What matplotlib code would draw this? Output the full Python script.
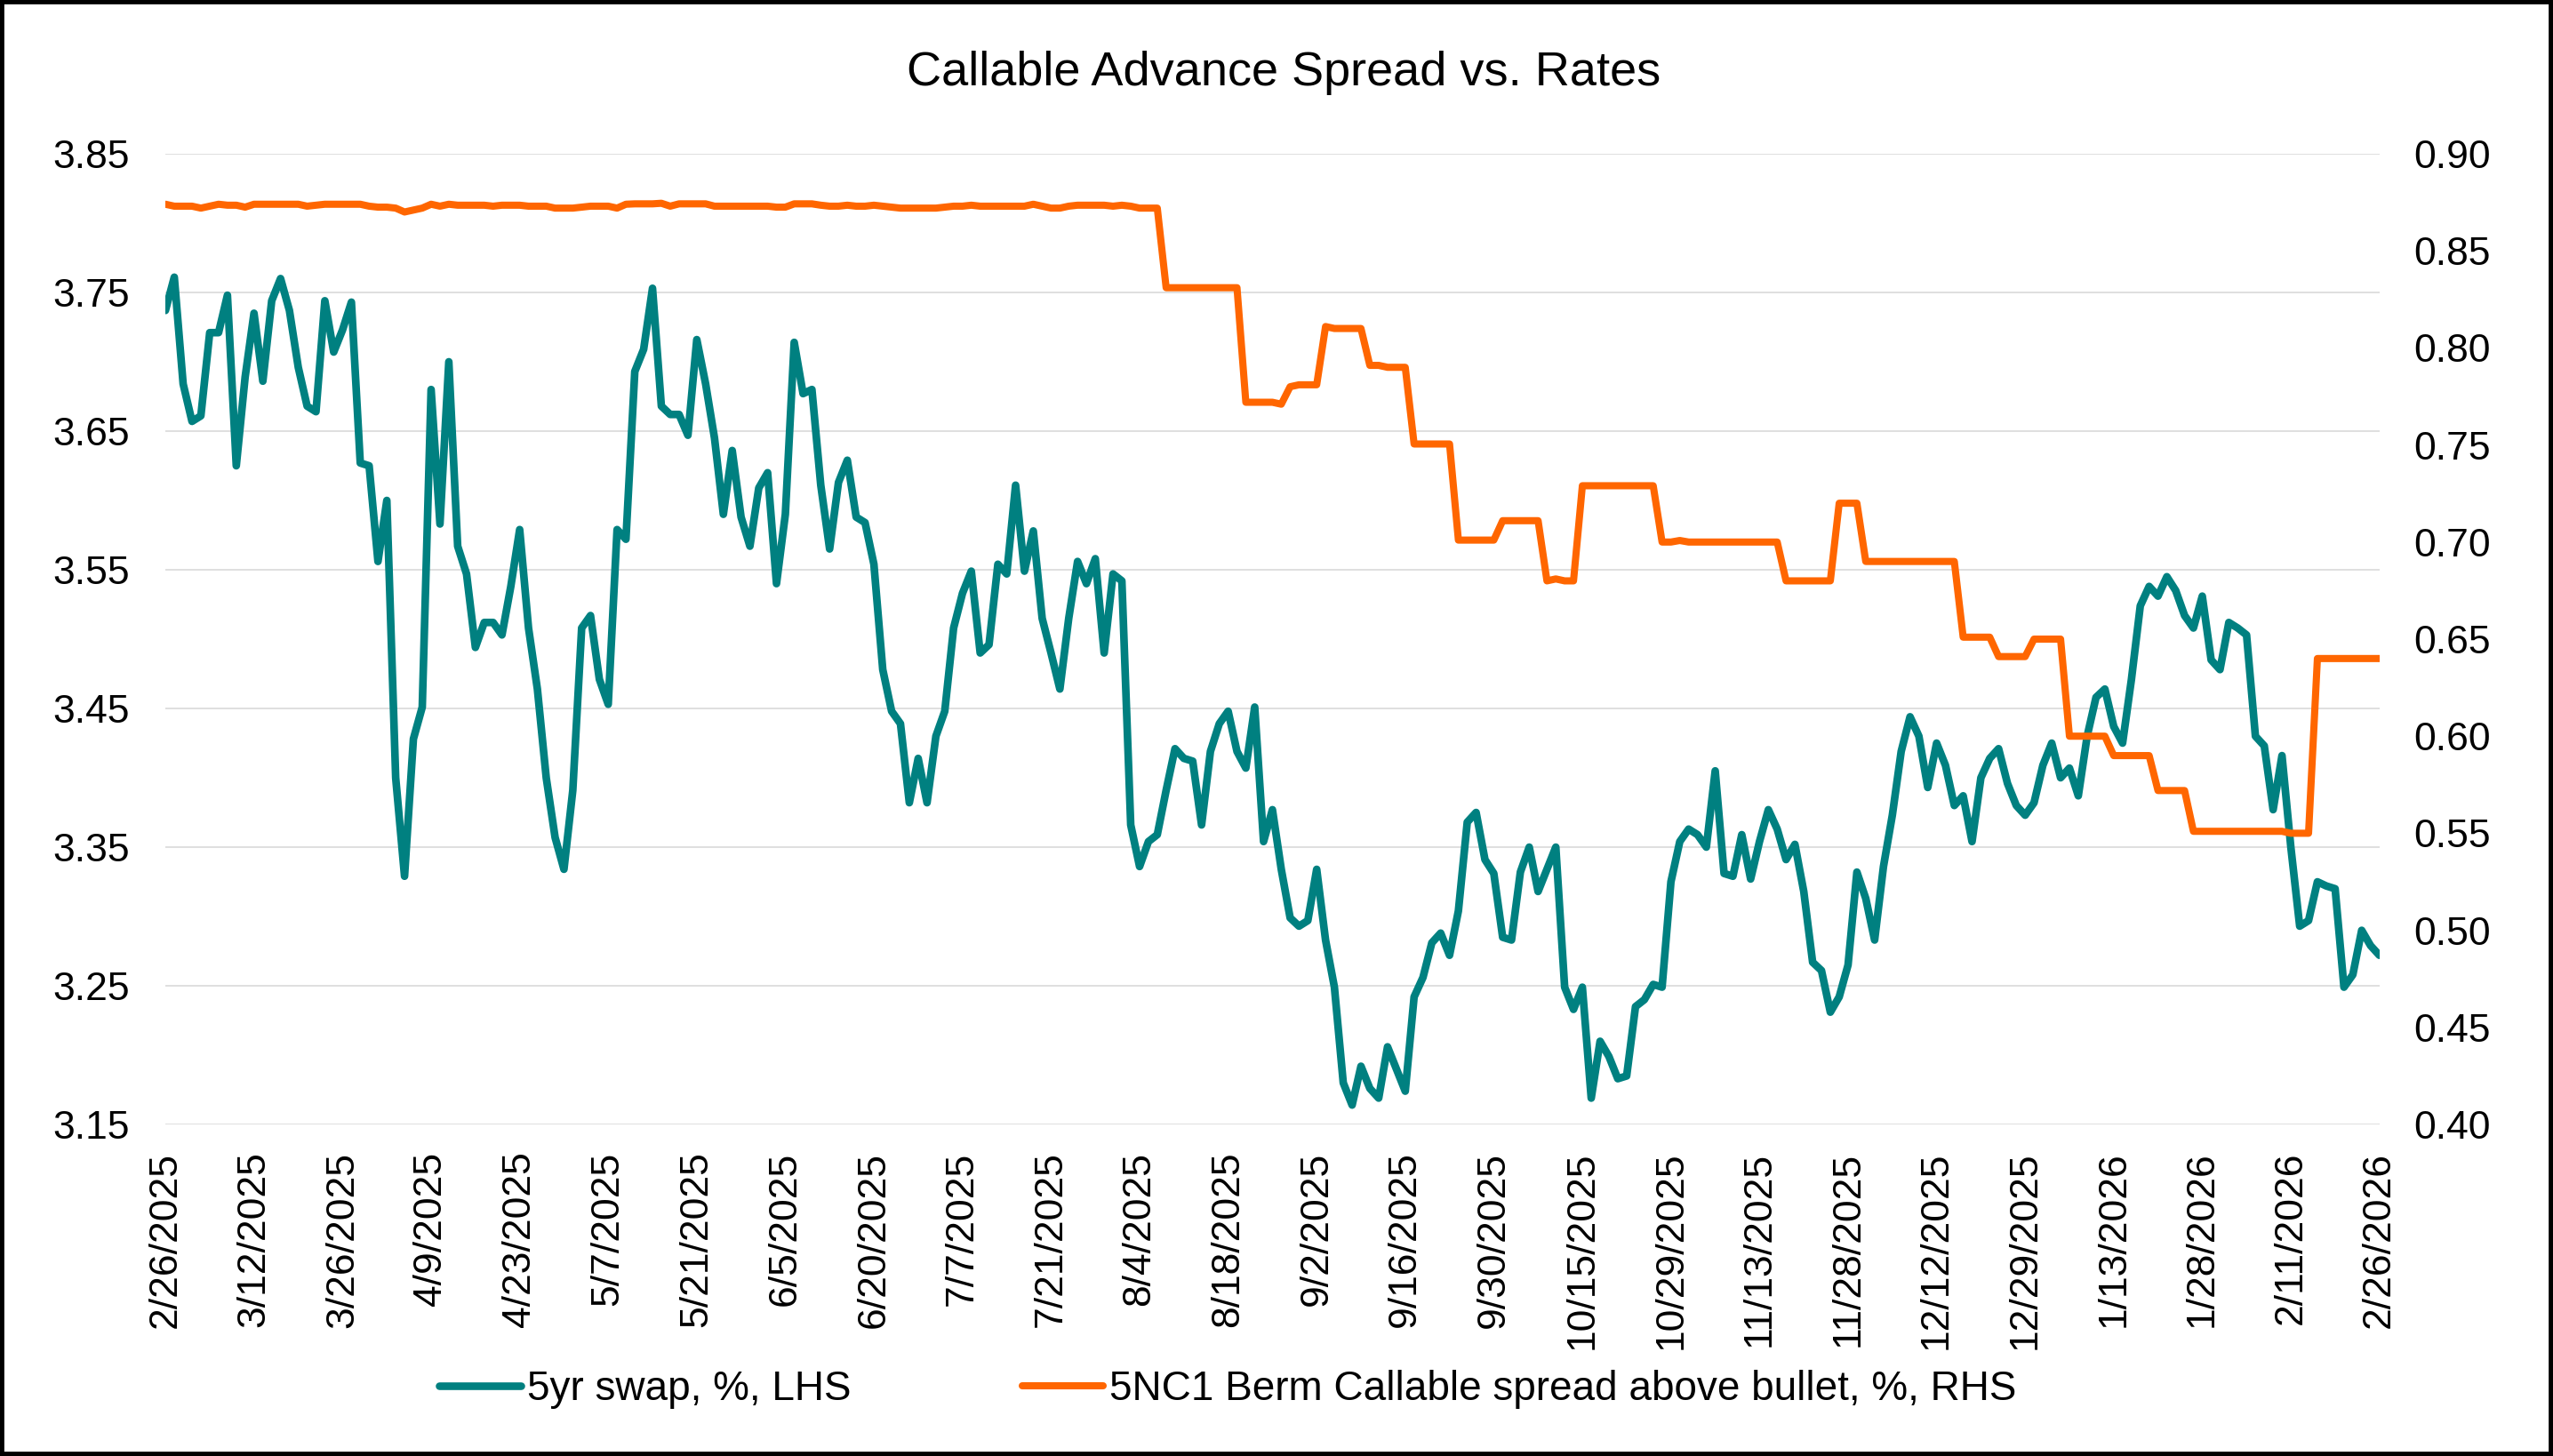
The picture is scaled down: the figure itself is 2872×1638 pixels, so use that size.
import matplotlib
matplotlib.use("Agg")
import matplotlib.pyplot as plt
from matplotlib.patches import Rectangle
from matplotlib.ticker import FormatStrFormatter, FixedLocator
import pandas as pd

plt.rcParams['font.family'] = ['Liberation Sans', 'DejaVu Sans']

# business days, bond market holidays removed
holidays = ['2025-05-26', '2025-06-19', '2025-07-04', '2025-09-01', '2025-10-13',
            '2025-11-11', '2025-11-27', '2025-12-25', '2026-01-01', '2026-01-19',
            '2026-02-16']
dates = pd.bdate_range('2025-02-26', '2026-02-26', freq='C', holidays=holidays)
date_labels = [f"{d.month}/{d.day}/{d.year}" for d in dates]

# 5yr swap, %, LHS
swap_5yr = [
    3.737, 3.761, 3.684, 3.657, 3.661, 3.721, 3.721, 3.748, 3.625, 3.689,
    3.735, 3.686, 3.744, 3.760, 3.737, 3.696, 3.668, 3.664, 3.744, 3.707,
    3.723, 3.743, 3.627, 3.625, 3.556, 3.600, 3.400, 3.329, 3.428, 3.451,
    3.680, 3.583, 3.700, 3.567, 3.547, 3.494, 3.512, 3.512, 3.503, 3.538,
    3.579, 3.508, 3.464, 3.400, 3.357, 3.334, 3.391, 3.508, 3.517, 3.471,
    3.453, 3.579, 3.572, 3.693, 3.709, 3.753, 3.668, 3.662, 3.662, 3.647,
    3.716, 3.684, 3.645, 3.590, 3.636, 3.588, 3.567, 3.609, 3.620, 3.540,
    3.590, 3.714, 3.677, 3.680, 3.611, 3.565, 3.613, 3.629, 3.588, 3.584,
    3.554, 3.478, 3.448, 3.439, 3.382, 3.414, 3.382, 3.430, 3.448, 3.508,
    3.533, 3.549, 3.490, 3.496, 3.554, 3.547, 3.611, 3.549, 3.578, 3.515,
    3.490, 3.464, 3.515, 3.556, 3.540, 3.558, 3.490, 3.547, 3.542, 3.366,
    3.336, 3.354, 3.359, 3.391, 3.421, 3.414, 3.412, 3.366, 3.419, 3.439,
    3.448, 3.419, 3.407, 3.451, 3.354, 3.377, 3.334, 3.299, 3.293, 3.297,
    3.334, 3.283, 3.249, 3.180, 3.164, 3.192, 3.176, 3.169, 3.206, 3.190,
    3.174, 3.242, 3.256, 3.281, 3.288, 3.272, 3.304, 3.368, 3.375, 3.341,
    3.331, 3.285, 3.283, 3.332, 3.350, 3.318, 3.334, 3.350, 3.249, 3.233,
    3.249, 3.169, 3.210, 3.199, 3.183, 3.185, 3.235, 3.240, 3.251, 3.249,
    3.325, 3.354, 3.363, 3.359, 3.350, 3.405, 3.331, 3.329, 3.359, 3.327,
    3.354, 3.377, 3.363, 3.341, 3.352, 3.318, 3.267, 3.261, 3.231, 3.242,
    3.265, 3.332, 3.313, 3.283, 3.336, 3.373, 3.419, 3.444, 3.430, 3.393,
    3.425, 3.409, 3.380, 3.387, 3.354, 3.400, 3.414, 3.421, 3.396, 3.380,
    3.373, 3.382, 3.409, 3.425, 3.400, 3.407, 3.387, 3.430, 3.458, 3.464,
    3.437, 3.425, 3.471, 3.524, 3.538, 3.531, 3.545, 3.535, 3.517, 3.508,
    3.531, 3.485, 3.478, 3.512, 3.508, 3.503, 3.430, 3.423, 3.377, 3.416,
    3.350, 3.293, 3.297, 3.325, 3.322, 3.320, 3.249, 3.258, 3.290, 3.279,
    3.272,
]

# 5NC1 Berm Callable spread above bullet, %, RHS
callable_spread = [
    0.874, 0.873, 0.873, 0.873, 0.872, 0.873, 0.874, 0.8735, 0.8735, 0.8725,
    0.874, 0.874, 0.874, 0.874, 0.874, 0.874, 0.873, 0.8735, 0.874, 0.874,
    0.874, 0.874, 0.874, 0.873, 0.8725, 0.8725, 0.872, 0.870, 0.871, 0.872,
    0.874, 0.873, 0.874, 0.8735, 0.8735, 0.8735, 0.8735, 0.873, 0.8735, 0.8735,
    0.8735, 0.873, 0.873, 0.873, 0.872, 0.872, 0.872, 0.8725, 0.873, 0.873,
    0.873, 0.872, 0.874, 0.8742, 0.8742, 0.8742, 0.8745, 0.873, 0.8742, 0.8742,
    0.8742, 0.8742, 0.873, 0.873, 0.873, 0.873, 0.873, 0.873, 0.873, 0.8725,
    0.8725, 0.8742, 0.8742, 0.8742, 0.8735, 0.873, 0.873, 0.8735, 0.873, 0.873,
    0.8735, 0.873, 0.8725, 0.872, 0.872, 0.872, 0.872, 0.872, 0.8725, 0.873,
    0.873, 0.8735, 0.873, 0.873, 0.873, 0.873, 0.873, 0.873, 0.874, 0.873,
    0.872, 0.872, 0.873, 0.8735, 0.8735, 0.8735, 0.8735, 0.873, 0.8735, 0.873,
    0.872, 0.872, 0.872, 0.831, 0.831, 0.831, 0.831, 0.831, 0.831, 0.831,
    0.831, 0.831, 0.772, 0.772, 0.772, 0.772, 0.771, 0.780, 0.781, 0.781,
    0.781, 0.811, 0.810, 0.810, 0.810, 0.810, 0.791, 0.791, 0.790, 0.790,
    0.790, 0.7505, 0.7505, 0.7505, 0.7505, 0.7505, 0.701, 0.701, 0.701, 0.701,
    0.701, 0.711, 0.711, 0.711, 0.711, 0.711, 0.680, 0.681, 0.680, 0.680,
    0.729, 0.729, 0.729, 0.729, 0.729, 0.729, 0.729, 0.729, 0.729, 0.700,
    0.700, 0.7008, 0.700, 0.700, 0.700, 0.700, 0.700, 0.700, 0.700, 0.700,
    0.700, 0.700, 0.700, 0.680, 0.680, 0.680, 0.680, 0.680, 0.680, 0.720,
    0.720, 0.720, 0.690, 0.690, 0.690, 0.690, 0.690, 0.690, 0.690, 0.690,
    0.690, 0.690, 0.690, 0.651, 0.651, 0.651, 0.651, 0.641, 0.641, 0.641,
    0.641, 0.650, 0.650, 0.650, 0.650, 0.600, 0.600, 0.600, 0.600, 0.600,
    0.590, 0.590, 0.590, 0.590, 0.590, 0.572, 0.572, 0.572, 0.572, 0.551,
    0.551, 0.551, 0.551, 0.551, 0.551, 0.551, 0.551, 0.551, 0.551, 0.551,
    0.550, 0.550, 0.550, 0.640, 0.640, 0.640, 0.640, 0.640, 0.640, 0.640,
    0.640,
]

left_ticks = [3.15, 3.25, 3.35, 3.45, 3.55, 3.65, 3.75, 3.85]
right_ticks = [0.40, 0.45, 0.50, 0.55, 0.60, 0.65, 0.70, 0.75, 0.80, 0.85, 0.90]

TEAL = '#008080'
ORANGE = '#FF6600'
FS = 32

fig = plt.figure(figsize=(28.72, 16.38), dpi=100)
ax = fig.add_subplot(111)
fig.subplots_adjust(left=0.0648, right=0.932, top=0.8944, bottom=0.2277)
ax2 = ax.twinx()

x = list(range(len(dates)))
l1, = ax.plot(x, swap_5yr, color=TEAL, lw=6.2, solid_joinstyle='round',
              solid_capstyle='round', label='5yr swap, %, LHS')
l2, = ax2.plot(x, callable_spread, color=ORANGE, lw=5.8, solid_joinstyle='round',
               solid_capstyle='round',
               label='5NC1 Berm Callable spread above bullet, %, RHS')

ax.set_xlim(0, len(dates) - 1)
ax.set_ylim(3.15, 3.85)
ax2.set_ylim(0.40, 0.90)

ax.yaxis.set_major_locator(FixedLocator(left_ticks))
ax.yaxis.set_major_formatter(FormatStrFormatter('%.2f'))
ax2.yaxis.set_major_locator(FixedLocator(right_ticks))
ax2.yaxis.set_major_formatter(FormatStrFormatter('%.2f'))

xt = list(range(0, len(dates), 10))
ax.set_xticks(xt)
ax.set_xticklabels([date_labels[i] for i in xt], rotation=90, fontsize=FS)

ax.grid(axis='y', color='#D9D9D9', lw=1.2)
ax.set_axisbelow(True)

for a in (ax, ax2):
    for s in a.spines.values():
        s.set_visible(False)
ax.tick_params(axis='y', length=0, labelsize=FS, pad=29)
ax.tick_params(axis='x', length=0, labelsize=FS, pad=22)
ax2.tick_params(axis='y', length=0, labelsize=FS, pad=28)

fig.text(0.503, 0.95, 'Callable Advance Spread vs. Rates', ha='center',
         va='center', fontsize=39)

fig.legend(handles=[l1, l2], loc='center', bbox_to_anchor=(0.481, 0.046),
           ncol=2, frameon=False, fontsize=33, handlelength=2.0,
           handletextpad=0.15, columnspacing=4.2)

# black chart border
fig.add_artist(Rectangle((0, 0), 1, 1, transform=fig.transFigure, fill=False,
                         ec='black', lw=7, clip_on=False))

fig.savefig('out.png', dpi=100)
